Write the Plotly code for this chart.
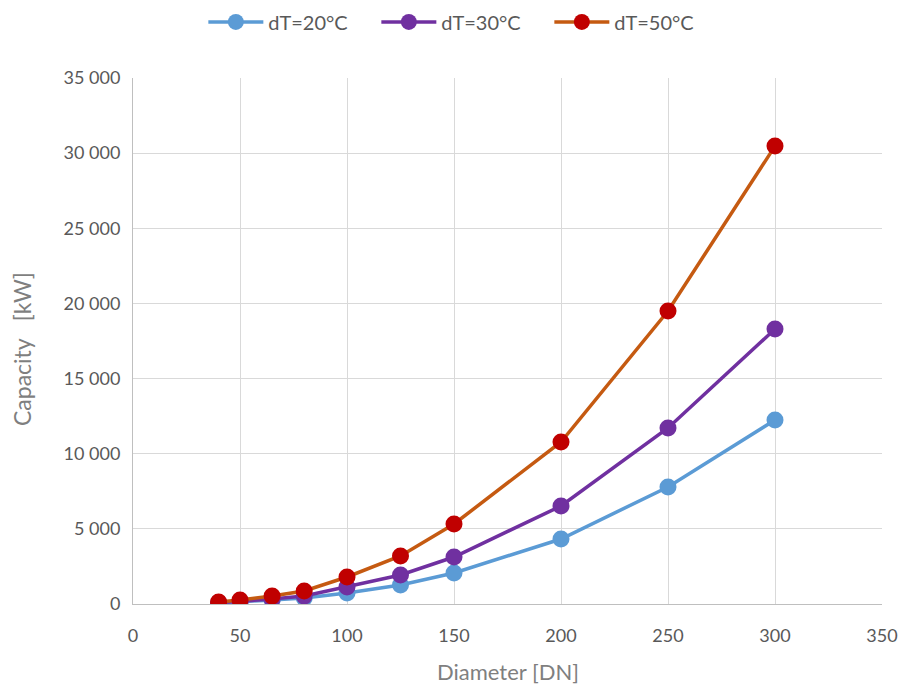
import plotly.graph_objects as go

diameter = [40, 50, 65, 80, 100, 125, 150, 200, 250, 300]
cap_dt20 = [80, 133, 266, 400, 732, 1264, 2063, 4325, 7785, 12240]
cap_dt30 = [80, 160, 333, 532, 1131, 1930, 3127, 6521, 11711, 18300]
cap_dt50 = [133, 266, 532, 865, 1797, 3194, 5323, 10780, 19497, 30470]

series = [
    ("dT=20°C", cap_dt20, "#5B9BD5", "#5B9BD5"),
    ("dT=30°C", cap_dt30, "#7030A0", "#7030A0"),
    ("dT=50°C", cap_dt50, "#C55A11", "#C00000"),
]

fig = go.Figure()
for name, vals, lc, mc in series:
    fig.add_trace(go.Scatter(
        x=diameter, y=vals, name=name, mode="lines+markers",
        line=dict(color=lc, width=3.5),
        marker=dict(color=mc, size=17),
    ))

font_family = "Lato, 'Open Sans', sans-serif"
fig.update_layout(
    width=904, height=686,
    margin=dict(l=133, r=22, t=78, b=82, autoexpand=False),
    paper_bgcolor="white", plot_bgcolor="white",
    separators=", ",
    font=dict(family=font_family, size=17, color="#595959"),
    legend=dict(orientation="h", xref="container", yref="container",
                x=0.512, xanchor="center", y=0.968, yanchor="middle",
                font=dict(size=20, color="#595959"), itemwidth=55, entrywidth=103),
    xaxis=dict(range=[0, 350], dtick=50, showgrid=True, gridcolor="#D9D9D9", gridwidth=1,
               showline=True, linecolor="#BFBFBF", linewidth=1, zeroline=False,
               ticks="", ticklabelstandoff=15, automargin=False,
               tickfont=dict(size=18, color="#595959")),
    yaxis=dict(range=[0, 35000], dtick=5000, tickformat=",d", showgrid=True, gridcolor="#D9D9D9",
               gridwidth=1, showline=True, linecolor="#BFBFBF", linewidth=1, zeroline=False,
               ticks="", ticklabelstandoff=8, automargin=False,
               tickfont=dict(size=18, color="#595959")),
    annotations=[
        dict(text="Diameter [DN]", xref="paper", yref="paper", x=0.5, y=-0.128,
             xanchor="center", yanchor="middle", showarrow=False,
             font=dict(size=22, color="#7F7F7F")),
        dict(text="Capacity\u00a0\u00a0\u00a0[kW]", xref="paper", yref="paper", x=-0.148, y=0.485,
             xanchor="center", yanchor="middle", showarrow=False, textangle=-90,
             font=dict(size=23, color="#7F7F7F")),
    ],
)
fig.write_html("out.html", post_script="document.body.style.margin='0';",
               config={"displayModeBar": False})
